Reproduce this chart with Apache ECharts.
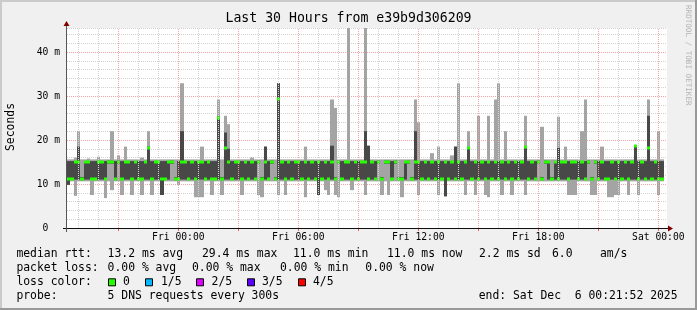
<!DOCTYPE html>
<html><head><meta charset="utf-8">
<script src="https://cdn.jsdelivr.net/npm/echarts@6/dist/echarts.min.js"></script>
<style>html,body{margin:0;padding:0;background:#f0f0f0}#c{width:697px;height:310px}</style>
</head><body><div id="c"></div>
<script>
// ---------------- data ----------------
const titleText = 'Last 30 Hours from e39b9d306209';
const startHour = -5.565;          // hours relative to Fri 00:00 (left edge of plot)
const endHour = 24.435;            // right edge of plot
const stepHours = 1 / 6;           // one sample column = 10 minutes
const yMax = 45.45;
const xTickValues = [0, 6, 12, 18, 24];
const xTickLabels = ['Fri 00:00', 'Fri 06:00', 'Fri 12:00', 'Fri 18:00', 'Sat 00:00'];
const majorHours = [-3, 0, 3, 6, 9, 12, 15, 18, 21, 24];
const minorHours = [-5, -4, -2, -1, 1, 2, 4, 5, 7, 8, 10, 11, 13, 14, 16, 17, 19, 20, 22, 23];

// median rtt (ms)
const med = [
11.1,11.1,15.0,15.0,11.1,15.0,15.0,11.1,11.1,15.0,
15.0,11.1,15.0,15.0,11.1,15.0,11.1,15.0,15.0,11.1,
15.0,11.1,11.1,15.0,18.2,11.1,15.0,15.0,11.1,11.1,
15.0,15.0,11.1,11.1,15.0,15.0,11.1,15.0,11.1,15.0,
15.0,11.1,15.0,11.1,11.1,25.0,11.1,18.2,15.0,11.1,
15.0,15.0,11.1,15.0,11.1,15.0,11.1,15.0,11.1,15.0,
11.1,15.0,11.1,29.4,15.0,11.1,15.0,11.1,15.0,15.0,
11.1,15.0,11.1,15.0,11.1,15.0,11.1,15.0,11.1,15.0,
11.1,15.0,11.1,15.0,15.0,11.1,15.0,11.1,15.0,15.0,
11.1,15.0,11.1,15.0,11.1,15.0,15.0,11.1,15.0,11.1,
11.1,15.0,15.0,11.1,15.0,15.0,11.1,15.0,11.1,15.0,
11.1,15.0,11.1,15.0,11.1,15.0,11.1,15.0,11.1,15.0,
18.2,11.1,15.0,11.1,15.0,11.1,15.0,11.1,15.0,11.1,
15.0,11.1,15.0,11.1,15.0,11.1,15.0,18.5,11.1,15.0,
11.1,15.0,11.1,15.0,15.0,11.1,15.0,11.1,15.0,15.0,
11.1,15.0,15.0,11.1,15.0,11.1,15.0,11.1,15.0,11.1,
15.0,11.1,11.1,15.0,11.1,15.0,11.1,15.0,11.1,15.0,
18.7,11.1,15.0,11.1,18.2,11.1,15.0,11.1,11.1];
// lowest ping
const lo = [
9.8,10.6,7.3,10.6,10.6,10.6,10.6,7.5,10.6,10.6,
10.6,6.8,10.6,8.6,10.6,10.6,7.5,10.6,10.6,7.5,
10.6,10.6,7.5,10.6,10.6,7.5,10.6,10.6,7.5,10.6,
10.6,10.6,10.6,9.8,10.6,10.6,10.6,10.6,7.0,7.0,
7.0,10.6,10.6,7.5,10.6,10.6,7.5,10.6,10.6,10.6,
10.6,10.6,7.5,10.6,10.6,10.6,10.6,7.5,7.0,10.6,
10.6,10.6,10.6,7.5,10.6,7.5,10.6,10.6,10.6,10.6,
10.6,7.0,10.6,10.6,10.6,7.5,10.6,8.6,7.5,10.6,
7.5,7.0,10.6,10.6,10.6,8.6,10.6,10.6,10.6,7.5,
10.6,10.6,10.6,10.6,7.5,10.6,7.5,10.6,10.6,10.6,
7.0,10.6,10.6,10.6,10.6,7.5,10.6,10.6,10.6,10.6,
10.6,7.5,10.6,7.2,10.6,10.6,10.6,10.6,10.6,7.5,
10.6,10.6,7.5,10.6,10.6,7.5,7.0,10.6,10.6,10.6,
7.5,10.6,10.6,7.5,10.6,10.6,10.6,7.5,10.6,10.6,
10.6,10.6,10.6,10.6,10.6,10.6,10.6,10.6,10.6,10.6,
7.5,7.5,7.5,10.6,10.6,10.6,10.6,7.5,7.5,10.6,
10.6,10.6,7.0,7.0,7.5,7.5,10.6,10.6,7.5,10.6,
10.6,7.5,10.6,10.6,10.6,10.6,10.6,7.5,10.6];
// second ping
const q1 = [
9.8,11.0,11.0,11.0,10.9,11.0,11.0,11.0,11.0,11.0,
11.0,11.0,14.6,14.6,11.0,14.6,11.0,11.0,11.0,11.0,
11.0,11.0,11.0,11.0,11.0,11.0,11.0,11.0,7.5,11.0,
11.0,14.6,10.9,11.0,11.0,11.0,11.0,11.0,11.0,11.0,
11.0,11.0,11.0,11.0,11.0,11.0,10.9,11.0,11.0,11.0,
11.0,11.0,11.0,11.0,11.0,11.0,11.0,14.6,10.9,11.0,
11.0,14.6,10.9,11.0,11.0,11.0,11.0,11.0,11.0,11.0,
11.0,11.0,11.0,11.0,11.0,7.5,11.0,11.0,11.0,11.0,
10.9,14.6,11.0,11.0,11.0,11.0,11.0,11.0,11.0,11.0,
11.0,11.0,11.0,14.6,10.9,14.6,14.6,11.0,14.6,10.9,
10.9,11.0,14.6,10.9,11.0,11.0,11.0,11.0,11.0,11.0,
11.0,11.0,11.0,7.2,11.0,11.0,11.0,11.0,11.0,11.0,
11.0,11.0,11.0,11.0,11.0,11.0,11.0,11.0,11.0,11.0,
11.0,11.0,11.0,11.0,11.0,11.0,11.0,11.0,11.0,11.0,
11.0,14.6,10.9,14.6,11.0,10.9,11.0,11.0,11.0,11.0,
11.0,11.0,11.0,11.0,11.0,11.0,14.6,10.9,14.6,11.0,
11.0,11.0,11.0,11.0,11.0,11.0,11.0,11.0,11.0,11.0,
11.0,11.0,11.0,11.0,11.0,11.0,11.0,11.0,11.0];
// fourth ping
const q3 = [
15.2,15.2,15.2,18.5,11.6,15.2,15.2,15.2,15.2,15.2,
15.2,15.2,15.3,15.3,15.2,15.3,15.2,15.2,15.2,15.2,
15.2,15.2,15.2,15.2,18.5,15.2,15.2,15.2,15.2,15.2,
15.2,15.3,11.6,15.2,22.0,15.2,15.2,15.2,15.2,15.2,
15.2,15.2,15.2,15.2,15.2,25.3,11.6,21.7,18.0,15.2,
15.2,15.2,15.2,15.2,15.2,15.2,15.2,15.3,11.6,18.5,
15.2,15.3,11.6,32.9,15.2,15.2,15.2,15.2,15.2,15.2,
15.2,15.2,15.2,15.2,15.2,15.2,15.2,15.2,15.2,18.7,
11.6,15.3,15.2,15.2,15.2,15.2,15.2,15.2,15.2,22.0,
18.7,15.2,15.2,15.3,11.6,15.3,15.3,15.2,15.3,11.6,
11.6,15.2,15.3,11.6,22.0,15.2,15.2,15.2,15.2,15.2,
15.2,15.2,15.2,15.2,15.2,15.2,18.5,15.2,15.2,15.2,
18.2,15.2,15.2,15.2,15.2,15.2,15.2,15.2,15.2,15.2,
15.2,15.2,15.2,15.2,15.2,15.2,15.2,18.5,15.2,15.2,
15.2,15.3,11.6,15.3,15.2,11.6,15.2,18.2,15.2,15.2,
15.2,15.2,15.2,15.2,15.2,15.2,15.3,11.6,15.3,15.2,
15.2,15.2,15.2,15.2,15.2,15.2,15.2,15.2,15.2,15.2,
18.7,15.2,15.2,15.2,25.5,15.2,15.2,15.2,15.2];
// highest ping
const hi = [
15.6,15.6,16.0,22.0,15.6,15.6,15.8,15.6,15.6,16.2,
15.6,15.6,15.6,22.0,15.6,16.5,15.6,18.5,15.6,15.6,
15.6,15.6,16.0,15.6,22.0,15.6,15.6,15.6,15.6,15.6,
15.6,15.6,15.6,15.6,32.9,15.6,15.6,15.6,15.6,15.6,
18.5,15.6,15.6,15.6,15.6,29.2,15.6,25.5,23.6,15.6,
15.6,15.6,15.6,15.6,15.6,16.0,15.6,15.6,15.6,18.5,
15.6,15.6,15.6,32.9,15.6,15.6,15.6,15.6,15.6,15.6,
15.6,18.5,15.6,15.6,15.6,15.6,15.6,15.6,15.6,29.2,
27.3,15.6,15.6,15.6,46.0,15.6,15.6,15.6,15.6,46.0,
18.7,15.6,15.6,15.6,15.6,15.6,15.6,15.6,15.6,15.6,
15.6,15.6,15.6,15.6,29.2,24.0,15.6,15.6,15.6,17.0,
15.6,18.5,15.6,15.6,15.6,16.5,18.5,32.9,15.6,15.6,
22.0,15.6,15.6,25.5,15.6,15.6,25.5,15.6,29.2,32.9,
15.6,22.0,15.6,15.6,15.6,15.6,15.6,25.5,15.6,15.6,
15.6,15.6,23.0,15.6,15.6,15.6,15.6,25.3,15.6,18.5,
15.6,15.6,15.6,15.6,22.0,29.2,15.6,15.6,15.6,15.6,
18.5,15.6,15.6,15.6,15.6,15.6,15.6,15.6,15.6,15.6,
18.7,15.6,15.6,15.6,29.2,15.6,15.6,22.0,15.6];

// ---------------- rendering ----------------
const F = '"DejaVu Sans Mono", "Liberation Mono", monospace';
const LIGHT = '#a4a4a4', DARK = '#484848', GREEN = '#26ff00';
const MINOR = '#d2d2d2', MAJOR = '#f4a4a4';
const GL = 67, GT = 28, GW = 600, GH = 200;

const smokeData = med.map((m, i) => [startHour + i * stepHours, lo[i], q1[i], q3[i], hi[i], m]);

function txt(x, y, s, size, extra) {
  const o = {type: 'text', x: x, y: y, silent: true,
    style: {text: s, font: size + 'px ' + F, fill: '#000', align: 'left', verticalAlign: 'middle'}};
  if (extra) { Object.assign(o.style, extra.style || {}); if (extra.rotation != null) o.rotation = extra.rotation; }
  return o;
}
const LF = 11.4;
const rows = [254.5, 268.3, 282.3, 296];
const graphics = [
  // frame shading
  {type: 'line', silent: true, shape: {x1: 0, y1: 1, x2: 697, y2: 1}, style: {stroke: '#cbcbcb', lineWidth: 2}},
  {type: 'line', silent: true, shape: {x1: 1, y1: 0, x2: 1, y2: 310}, style: {stroke: '#cbcbcb', lineWidth: 2}},
  {type: 'line', silent: true, shape: {x1: 0, y1: 309, x2: 697, y2: 309}, style: {stroke: '#999999', lineWidth: 2}},
  {type: 'line', silent: true, shape: {x1: 696, y1: 0, x2: 696, y2: 310}, style: {stroke: '#999999', lineWidth: 2}},
  // axes
  {type: 'line', silent: true, z: 50, shape: {x1: GL - 4, y1: GT + GH + 0.5, x2: GL + GW + 2, y2: GT + GH + 0.5}, style: {stroke: '#101010', lineWidth: 1}},
  {type: 'line', silent: true, z: 50, shape: {x1: GL - 0.5, y1: GT + GH + 4, x2: GL - 0.5, y2: GT - 2}, style: {stroke: '#555555', lineWidth: 1}},
  {type: 'polygon', silent: true, z: 51, shape: {points: [[GL + GW + 6, GT + GH + 0.5], [GL + GW + 1, GT + GH - 2.5], [GL + GW + 1, GT + GH + 3.5]]}, style: {fill: '#800000'}},
  {type: 'polygon', silent: true, z: 51, shape: {points: [[GL - 0.5, GT - 7], [GL - 3.5, GT - 2], [GL + 2.5, GT - 2]]}, style: {fill: '#800000'}},
  // title, unit, watermark
  txt(348.5, 19, titleText, 13.2, {style: {align: 'center'}}),
  txt(11, 127, 'Seconds', LF, {rotation: Math.PI / 2, style: {align: 'center'}}),
  txt(688, 5, 'RRDTOOL / TOBI OETIKER', 7.6, {rotation: -Math.PI / 2, style: {fill: '#b4b4b4'}}),
  // legend
  txt(16.4, rows[0], 'median rtt:', LF), txt(107.6, rows[0], '13.2 ms avg', LF), txt(202, rows[0], '29.4 ms max', LF),
  txt(293, rows[0], '11.0 ms min', LF), txt(387, rows[0], '11.0 ms now', LF), txt(479, rows[0], '2.2 ms sd', LF),
  txt(552, rows[0], '6.0', LF), txt(600, rows[0], 'am/s', LF),
  txt(16.4, rows[1], 'packet loss:', LF), txt(107.6, rows[1], '0.00 % avg', LF), txt(192, rows[1], '0.00 % max', LF),
  txt(280, rows[1], '0.00 % min', LF), txt(365.3, rows[1], '0.00 % now', LF),
  txt(16.4, rows[2], 'loss color:', LF),
  txt(123, rows[2], '0', LF), txt(161, rows[2], '1/5', LF), txt(211.6, rows[2], '2/5', LF),
  txt(262, rows[2], '3/5', LF), txt(313, rows[2], '4/5', LF),
  txt(16.4, rows[3], 'probe:', LF), txt(107.6, rows[3], '5 DNS requests every 300s', LF),
  txt(478.7, rows[3], 'end: Sat Dec  6 00:21:52 2025', LF)
];
const lossColors = ['#26ff00', '#00b8ff', '#dd00ff', '#5e00ff', '#ff0000'];
const boxX = [108.5, 145.5, 196.5, 247.5, 298.5];
lossColors.forEach((c, k) => graphics.push({type: 'rect', silent: true,
  shape: {x: boxX[k], y: rows[2] - 3.5, width: 7, height: 7}, style: {fill: c, stroke: '#000', lineWidth: 1}}));

const chart = echarts.init(document.getElementById('c'), null, {renderer: 'canvas'});
chart.setOption({
  animation: false,
  backgroundColor: '#f0f0f0',
  grid: {left: GL, top: GT, width: GW, height: GH, containLabel: false, outerBoundsMode: 'none',
         show: true, backgroundColor: '#ffffff', borderWidth: 0},
  xAxis: {
    type: 'value', min: startHour, max: endHour,
    axisLine: {show: false},
    splitLine: {show: false},
    axisTick: {show: true, customValues: majorHours, length: 3, lineStyle: {color: '#e06060'}},
    axisLabel: {
      customValues: xTickValues, margin: 4, color: '#000', fontFamily: F, fontSize: 9.7,
      formatter: v => { const k = xTickValues.indexOf(Math.round(v)); return k >= 0 ? xTickLabels[k] : ''; }
    }
  },
  yAxis: {
    type: 'value', min: 0, max: yMax, interval: 2,
    axisLine: {show: false},
    axisTick: {show: false},
    axisLabel: {
      margin: 7, color: '#000', fontFamily: F, fontSize: 9.7, showMaxLabel: false,
      formatter: v => (Math.abs(v % 10) < 1e-6 ? (v === 0 ? '0  ' : v + ' m') : '')
    },
    splitLine: {show: true, lineStyle: {color: [MAJOR, MINOR, MINOR, MINOR, MINOR], type: [1, 1], width: 1}}
  },
  series: [
    {
      type: 'line', data: [], silent: true, z: 1,
      markLine: {
        silent: true, symbol: 'none', animation: false, label: {show: false},
        data: minorHours.map(h => ({xAxis: h, lineStyle: {color: MINOR, type: [1, 1], width: 1}}))
          .concat(majorHours.map(h => ({xAxis: h, lineStyle: {color: MAJOR, type: [1, 1], width: 1}})))
      }
    },
    {
      type: 'custom', z: 3, clip: true, silent: true,
      encode: {x: 0, y: [1, 2, 3, 4, 5]},
      data: smokeData,
      renderItem: function (params, api) {
        const t = api.value(0);
        const x0 = Math.round(api.coord([t, 0])[0]);
        const x1 = Math.round(api.coord([t + stepHours, 0])[0]);
        const w = x1 - x0;
        const yLo = api.coord([t, api.value(1)])[1];
        const yQ1 = api.coord([t, api.value(2)])[1];
        const yQ3 = api.coord([t, api.value(3)])[1];
        const yHi = api.coord([t, api.value(4)])[1];
        const yMed = api.coord([t, api.value(5)])[1];
        return {type: 'group', children: [
          {type: 'rect', shape: {x: x0, y: yHi, width: w, height: yLo - yHi}, style: {fill: LIGHT}},
          {type: 'rect', shape: {x: x0, y: yQ3, width: w, height: yQ1 - yQ3}, style: {fill: DARK}},
          {type: 'rect', shape: {x: x0, y: Math.round(yMed) - 1.5, width: w, height: 3}, style: {fill: GREEN}}
        ]};
      }
    }
  ],
  graphic: graphics
});
</script>
</body></html>
